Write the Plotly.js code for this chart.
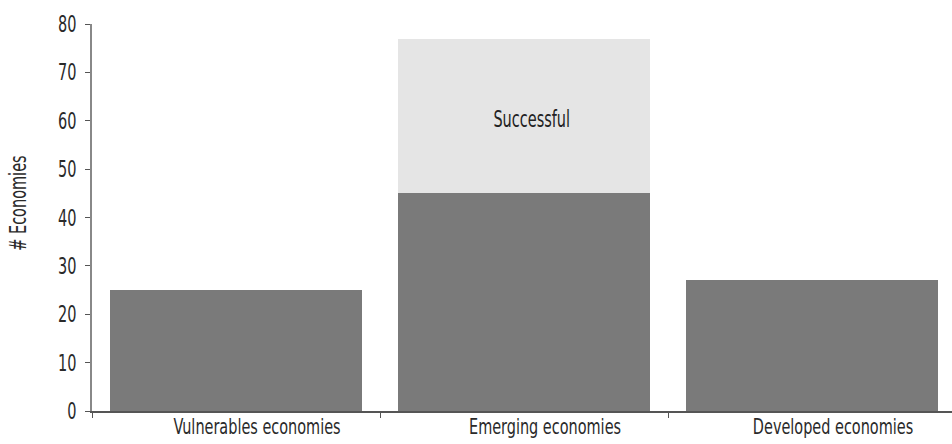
<!DOCTYPE html>
<html>
<head>
<meta charset="utf-8">
<script src="https://cdn.plot.ly/plotly-3.0.1.min.js"></script>
<style>
  html, body { margin: 0; padding: 0; background: #fff; }
  #chart { width: 952px; height: 444px; }
</style>
</head>
<body>
<div id="chart"></div>
<script>
// Number of economies per group; the emerging group splits into a "Successful" share on top
const categories = ["Vulnerables economies", "Emerging economies", "Developed economies"];
const baseCounts = [25, 45, 27];
const successfulCounts = [0, 32, 0];
const segmentLabel = "Successful";
const labelledIndex = 1;
const yTicks = [0, 10, 20, 30, 40, 50, 60, 70, 80];

const FONT = '"DejaVu Sans Condensed", "DejaVu Sans", sans-serif';
const FSIZE = 23;
const XSIZE = 22;
// horizontal squeeze applied to the labels to get a narrow, tall typeface look
const SQUEEZE = 0.7;
const XSQUEEZE = 0.73;

const traces = [
  {
    type: "bar",
    x: categories,
    y: baseCounts,
    marker: { color: "#7a7a7a", line: { width: 0 } },
    hoverinfo: "x+y",
    showlegend: false
  },
  {
    type: "bar",
    x: categories,
    y: successfulCounts,
    marker: { color: "#e5e5e5", line: { width: 0 } },
    hoverinfo: "x+y",
    showlegend: false
  }
];

// label sits in the middle of the light segment
const segMid = baseCounts[labelledIndex] + successfulCounts[labelledIndex] / 2;

const layout = {
  width: 952,
  height: 444,
  margin: { l: 92, r: 0, t: 24, b: 33 },
  paper_bgcolor: "#fff",
  plot_bgcolor: "#fff",
  barmode: "stack",
  bargap: 0.125,
  font: { family: FONT, size: FSIZE, color: "#2a2a2a" },
  xaxis: {
    type: "category",
    range: [-0.5, 2.486],
    showgrid: false,
    zeroline: false,
    showline: true,
    linecolor: "#555",
    linewidth: 1.5,
    ticks: "outside",
    tickson: "boundaries",
    ticklen: 5,
    tickcolor: "#555",
    tickwidth: 1,
    ticklabelshift: 21,
    ticklabelstandoff: -5,
    tickfont: { family: FONT, size: XSIZE, color: "#2a2a2a" }
  },
  yaxis: {
    range: [0, 80],
    tickvals: yTicks,
    ticktext: yTicks.map(String),
    showgrid: false,
    zeroline: false,
    showline: true,
    linecolor: "#888",
    linewidth: 2,
    ticks: "outside",
    ticklen: 5,
    tickcolor: "#555",
    tickwidth: 1,
    ticklabelstandoff: 4,
    tickfont: { family: FONT, size: FSIZE, color: "#2a2a2a" }
  },
  annotations: [
    {
      text: segmentLabel,
      xref: "x", yref: "y",
      x: categories[labelledIndex], y: segMid,
      xshift: 7, yshift: -3,
      showarrow: false,
      font: { family: FONT, size: FSIZE, color: "#222" }
    },
    {
      text: "# Economies",
      xref: "paper", yref: "paper",
      x: 0, y: 0.537,
      xanchor: "center", yanchor: "middle",
      xshift: -74,
      textangle: -90,
      showarrow: false,
      font: { family: FONT, size: FSIZE, color: "#2a2a2a" }
    }
  ]
};

function squeeze(nodes, factor) {
  nodes.forEach(function (t) {
    const w = t.getComputedTextLength();
    if (w > 0) {
      t.setAttribute("textLength", (w * factor).toFixed(2));
      t.setAttribute("lengthAdjust", "spacingAndGlyphs");
    }
  });
}

Plotly.newPlot("chart", traces, layout, { displayModeBar: false, staticPlot: true })
  .then(function (gd) {
    squeeze(gd.querySelectorAll(".ytick text, .annotation-text"), SQUEEZE);
    squeeze(gd.querySelectorAll(".xtick text"), XSQUEEZE);
  });
</script>
</body>
</html>
